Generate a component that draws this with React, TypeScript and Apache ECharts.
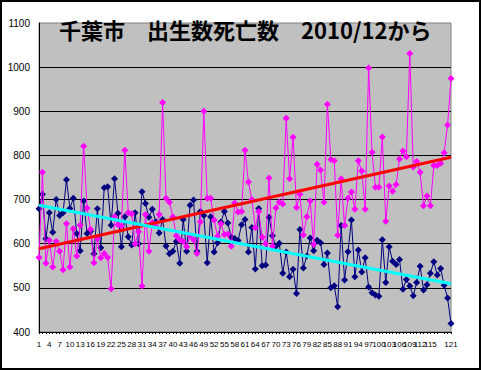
import React, { useEffect, useRef } from 'react';
import * as echarts from 'echarts';

// x categories: 1..121 (months from 2010/12)
const categories: string[] = Array.from({ length: 121 }, (_, i) => String(i + 1));

// 出生数 (navy)
const births: number[] = [
  679, 712, 611, 670, 626, 700, 664, 670, 745, 680,
  703, 623, 584, 697, 623, 628, 577, 679, 591, 727,
  729, 642, 747, 669, 593, 661, 616, 597, 670, 600,
  718, 691, 660, 678, 650, 624, 655, 595, 577, 583,
  605, 556, 655, 583, 687, 699, 583, 673, 664, 557,
  661, 581, 602, 649, 673, 647, 615, 612, 607, 643,
  655, 581, 637, 543, 680, 550, 552, 660, 618, 594,
  601, 533, 581, 525, 542, 487, 632, 545, 572, 613,
  584, 608, 602, 553, 579, 500, 505, 457, 641, 518,
  582, 654, 525, 586, 536, 568, 502, 489, 484, 481,
  609, 512, 593, 560, 553, 564, 497, 519, 504, 482,
  512, 549, 495, 507, 533, 559, 529, 544, 506, 477,
  419,
];

// 死亡数 (magenta)
const deaths: number[] = [
  569, 762, 556, 608, 547, 605, 583, 541, 645, 547,
  634, 572, 642, 821, 681, 633, 557, 611, 568, 578,
  569, 498, 661, 643, 640, 812, 670, 668, 600, 627,
  504, 666, 583, 648, 640, 666, 920, 703, 694, 661,
  618, 609, 605, 593, 618, 609, 578, 650, 900, 703,
  703, 654, 617, 645, 621, 622, 594, 692, 672, 673,
  812, 740, 700, 636, 673, 615, 600, 749, 594, 681,
  694, 690, 884, 747, 841, 682, 712, 620, 661, 697,
  598, 780, 767, 694, 916, 791, 788, 619, 747, 641,
  703, 717, 678, 788, 765, 678, 998, 807, 728, 728,
  842, 651, 731, 719, 734, 792, 810, 797, 1031, 774,
  786, 762, 686, 708, 686, 777, 777, 782, 806, 869,
  974,
];

const yTicks = { min: 400, max: 1100, step: 100 };
const title = '千葉市　出生数死亡数　2010/12から';

function linearTrend(values: number[]): [number, number][] {
  const n = values.length;
  let sx = 0, sy = 0;
  values.forEach((v, i) => { sx += i; sy += v; });
  const mx = sx / n, my = sy / n;
  let num = 0, den = 0;
  values.forEach((v, i) => { num += (i - mx) * (v - my); den += (i - mx) * (i - mx); });
  const b = num / den;
  const a = my - b * mx;
  return [[0, a], [n - 1, a + b * (n - 1)]];
}

export default function App() {
  const ref = useRef<HTMLDivElement>(null);
  useEffect(() => {
    document.body.style.margin = '0';
    if (!ref.current) return;
    const chart = echarts.init(ref.current, undefined, { renderer: 'svg' });
    const font = '"Liberation Sans", Arial, sans-serif';
    chart.setOption({
      animation: false,
      backgroundColor: '#FFFFFF',
      grid: {
        left: 39, right: 30, top: 23, bottom: 38,
        show: true, backgroundColor: '#C0C0C0', borderColor: '#808080', borderWidth: 1,
      },
      graphic: [
        {
          type: 'rect', silent: true, z: 100,
          shape: { x: 1, y: 1, width: 479, height: 368 },
          style: { fill: 'none', stroke: '#000000', lineWidth: 2 },
        },
        {
          type: 'text', left: 59, top: 18, z: 100, silent: true,
          style: {
            text: title, fill: '#000000',
            font: 'bold 22px "Noto Sans CJK JP", sans-serif',
          },
        },
      ],
      xAxis: {
        type: 'category', data: categories, boundaryGap: false,
        axisLine: { show: true, lineStyle: { color: '#000000', width: 1 } },
        axisTick: { show: true, interval: 0, length: 2, lineStyle: { color: '#000000' } },
        axisLabel: {
          interval: 2, fontSize: 8, color: '#000000', margin: 8, fontFamily: font,
          showMinLabel: true, showMaxLabel: true, hideOverlap: false,
        },
        splitLine: { show: false },
      },
      yAxis: {
        type: 'value', min: yTicks.min, max: yTicks.max, interval: yTicks.step,
        axisLine: { show: true, lineStyle: { color: '#000000', width: 1 } },
        axisTick: { show: false },
        axisLabel: {
          fontSize: 10, color: '#000000', margin: 9, fontFamily: font,
          formatter: (v: number) => String(v),
        },
        splitLine: { show: true, showMaxLine: false, lineStyle: { color: '#000000', width: 1 } },
      },
      series: [
        {
          name: '出生数', type: 'line', data: births, silent: true,
          symbol: 'diamond', symbolSize: 7, showAllSymbol: true,
          itemStyle: { color: '#000080' },
          lineStyle: { color: '#000080', width: 1 }, z: 2,
        },
        {
          name: '死亡数', type: 'line', data: deaths, silent: true,
          symbol: 'diamond', symbolSize: 7, showAllSymbol: true,
          itemStyle: { color: '#FF00FF' },
          lineStyle: { color: '#FF00FF', width: 1 }, z: 3,
        },
        {
          name: '死亡数 傾向', type: 'line', data: linearTrend(deaths), silent: true,
          symbol: 'none', lineStyle: { color: '#FF0000', width: 3 }, z: 4,
        },
        {
          name: '出生数 傾向', type: 'line', data: linearTrend(births), silent: true,
          symbol: 'none', lineStyle: { color: '#00FFFF', width: 3 }, z: 4,
        },
      ],
    });
    return () => chart.dispose();
  }, []);
  return <div ref={ref} style={{ width: 481, height: 370 }} />;
}
